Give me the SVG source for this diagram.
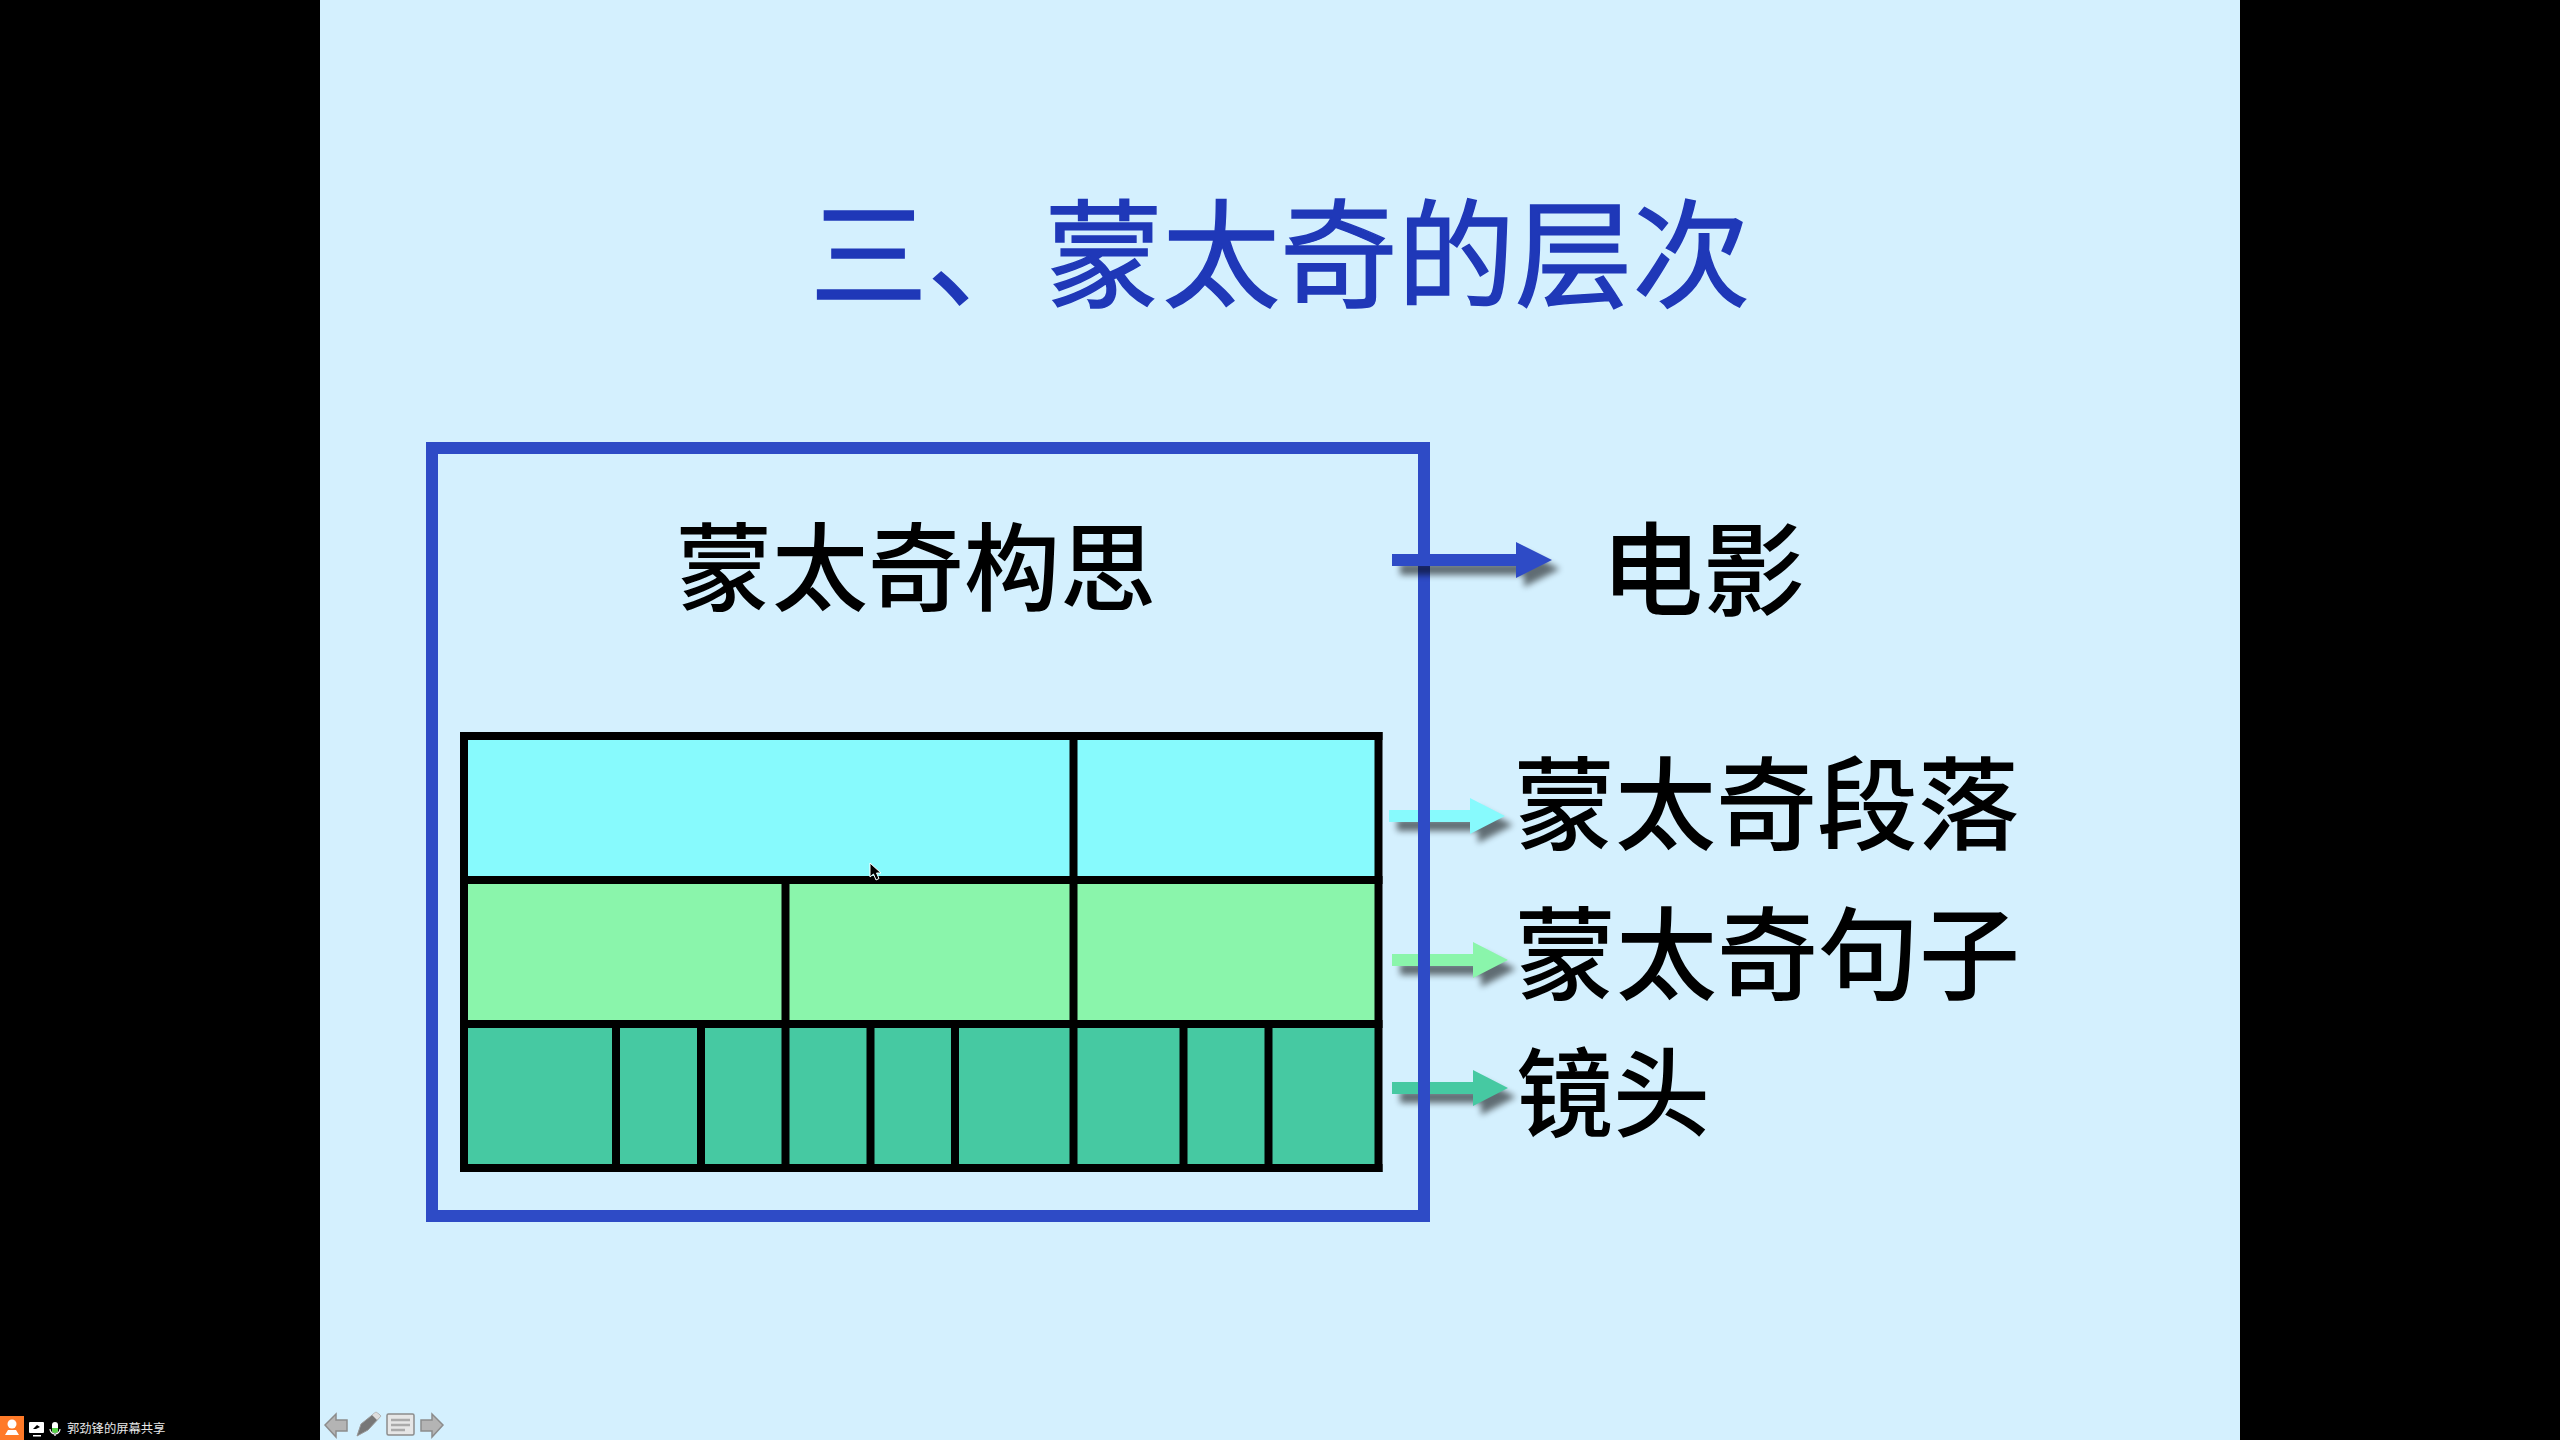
<svg xmlns="http://www.w3.org/2000/svg" width="2560" height="1440" viewBox="0 0 2560 1440">
<style>
text{font-family:"Noto Sans CJK SC","Noto Sans",sans-serif}
.t{fill:#000;font-size:101px;font-weight:500}
.g{fill:#000}
.c{fill:#87FAFD}.n{fill:#8AF5AB}.d{fill:#46C9A2}
.nav{fill:#b4b4b4;stroke:#8c8c8c;stroke-width:1.5}
</style>
<defs>
<filter id="sh" x="-20%" y="-60%" width="150%" height="260%" color-interpolation-filters="sRGB">
<feGaussianBlur in="SourceAlpha" stdDeviation="3"/><feOffset dx="8" dy="9"/>
<feComponentTransfer><feFuncA type="linear" slope="0.55"/></feComponentTransfer>
<feMerge><feMergeNode/><feMergeNode in="SourceGraphic"/></feMerge>
</filter>
</defs>
<rect width="2560" height="1440" fill="#000"/>
<rect x="320" width="1920" height="1440" fill="#D4F0FE"/>
<g id="title"><text x="810" y="298" font-size="117.500" font-weight="400" fill="#1F38B8" stroke="#1F38B8" stroke-width="1.500">三、蒙太奇的层次</text></g>
<g id="connectors">
<path id="arrow-segment" filter="url(#sh)" fill="#87FAFD" d="M1389 810H1470V798L1505 816L1470 834V822H1389Z"/>
<path id="arrow-sentence" filter="url(#sh)" fill="#8AF5AB" d="M1392 954H1473V942L1508 960L1473 978V966H1392Z"/>
<path id="arrow-shot" filter="url(#sh)" fill="#46C9A2" d="M1392 1082H1473V1070L1508 1088L1473 1106V1094H1392Z"/>
</g>
<g id="frame"><rect x="432" y="448" width="992" height="768" fill="none" stroke="#2E4BC6" stroke-width="12"/></g>
<g id="connector-film"><path filter="url(#sh)" fill="#2E4BC6" d="M1392 554H1516V542L1552 560L1516 578V566H1392Z"/></g>
<g id="concept"><text class="t" x="676" y="603" style="font-size:96px">蒙太奇构思</text></g>
<g id="label-film"><text class="t" x="1601" y="608" style="font-size:102px">电影</text></g>
<g id="label-segment"><text class="t" x="1514" y="842">蒙太奇段落</text></g>
<g id="label-sentence"><text class="t" x="1515" y="992">蒙太奇句子</text></g>
<g id="label-shot"><text class="t" x="1516" y="1129" style="font-size:97px">镜头</text></g>
<g id="grid">
<rect class="c" x="464" y="736" width="914" height="144"/>
<rect class="n" x="464" y="880" width="914" height="144"/>
<rect class="d" x="464" y="1024" width="914" height="144"/>
<rect class="g" x="460" y="732" width="922.500" height="8"/>
<rect class="g" x="460" y="876" width="922.500" height="8"/>
<rect class="g" x="460" y="1020" width="922.500" height="8"/>
<rect class="g" x="460" y="1164" width="922.500" height="8"/>
<rect class="g" x="460" y="732" width="8" height="440"/>
<rect class="g" x="1374.500" y="732" width="8" height="440"/>
<rect class="g" x="1069.500" y="732" width="8" height="440"/>
<rect class="g" x="781.500" y="876" width="8" height="296"/>
<rect class="g" x="612" y="1020" width="8" height="152"/>
<rect class="g" x="697" y="1020" width="8" height="152"/>
<rect class="g" x="866.500" y="1020" width="8" height="152"/>
<rect class="g" x="951" y="1020" width="8" height="152"/>
<rect class="g" x="1179.500" y="1020" width="8" height="152"/>
<rect class="g" x="1264.500" y="1020" width="8" height="152"/>
</g>
<path id="cursor" d="M870 863V877L873.500 874L876 880L879 878.500L876.500 873H881Z" fill="#000" stroke="#fff" stroke-width="1"/>
<g id="nav">
<path class="nav" d="M325 1425L336 1414V1420H347V1431H336V1437Z"/>
<path fill="#777" stroke="#999" d="M357 1436L361 1424L376 1412L381 1416L368 1430Z"/>
<path fill="#ddd" d="M372 1415L376 1412L381 1416L377 1420Z"/>
<rect x="387" y="1414" width="27" height="21" rx="1.500" fill="#e6e6e6" stroke="#8c8c8c" stroke-width="1.500"/>
<path d="M391 1420H410M391 1425H410M391 1430H405" stroke="#aaa" stroke-width="2.500"/>
<path class="nav" d="M443 1425L432 1414V1420H421V1431H432V1437Z"/>
</g>
<g id="statusbar">
<rect x="0" y="1416" width="24" height="24" fill="#FF7A28"/>
<circle cx="12" cy="1424" r="4.500" fill="#fff"/>
<path d="M5 1435L8 1430H16L19 1435Z" fill="#fff"/>
<rect x="29" y="1422" width="15" height="11" rx="1" fill="#fff"/>
<rect x="33" y="1435" width="8" height="1.500" fill="#fff"/>
<path d="M33 1429L37 1425L40 1427L36 1429Z" fill="#000"/>
<rect x="52" y="1422" width="6" height="11" rx="3" fill="#fff"/>
<path d="M52 1428H58V1430A3 3 0 0 1 52 1430Z" fill="#56d246"/>
<path d="M50 1429A5 5 0 0 0 60 1429M55 1434V1436" fill="none" stroke="#fff" stroke-width="1.200"/>
<text x="67" y="1433" font-size="12.300" fill="#e8e8e8">郭劲锋的屏幕共享</text>
</g>
</svg>
